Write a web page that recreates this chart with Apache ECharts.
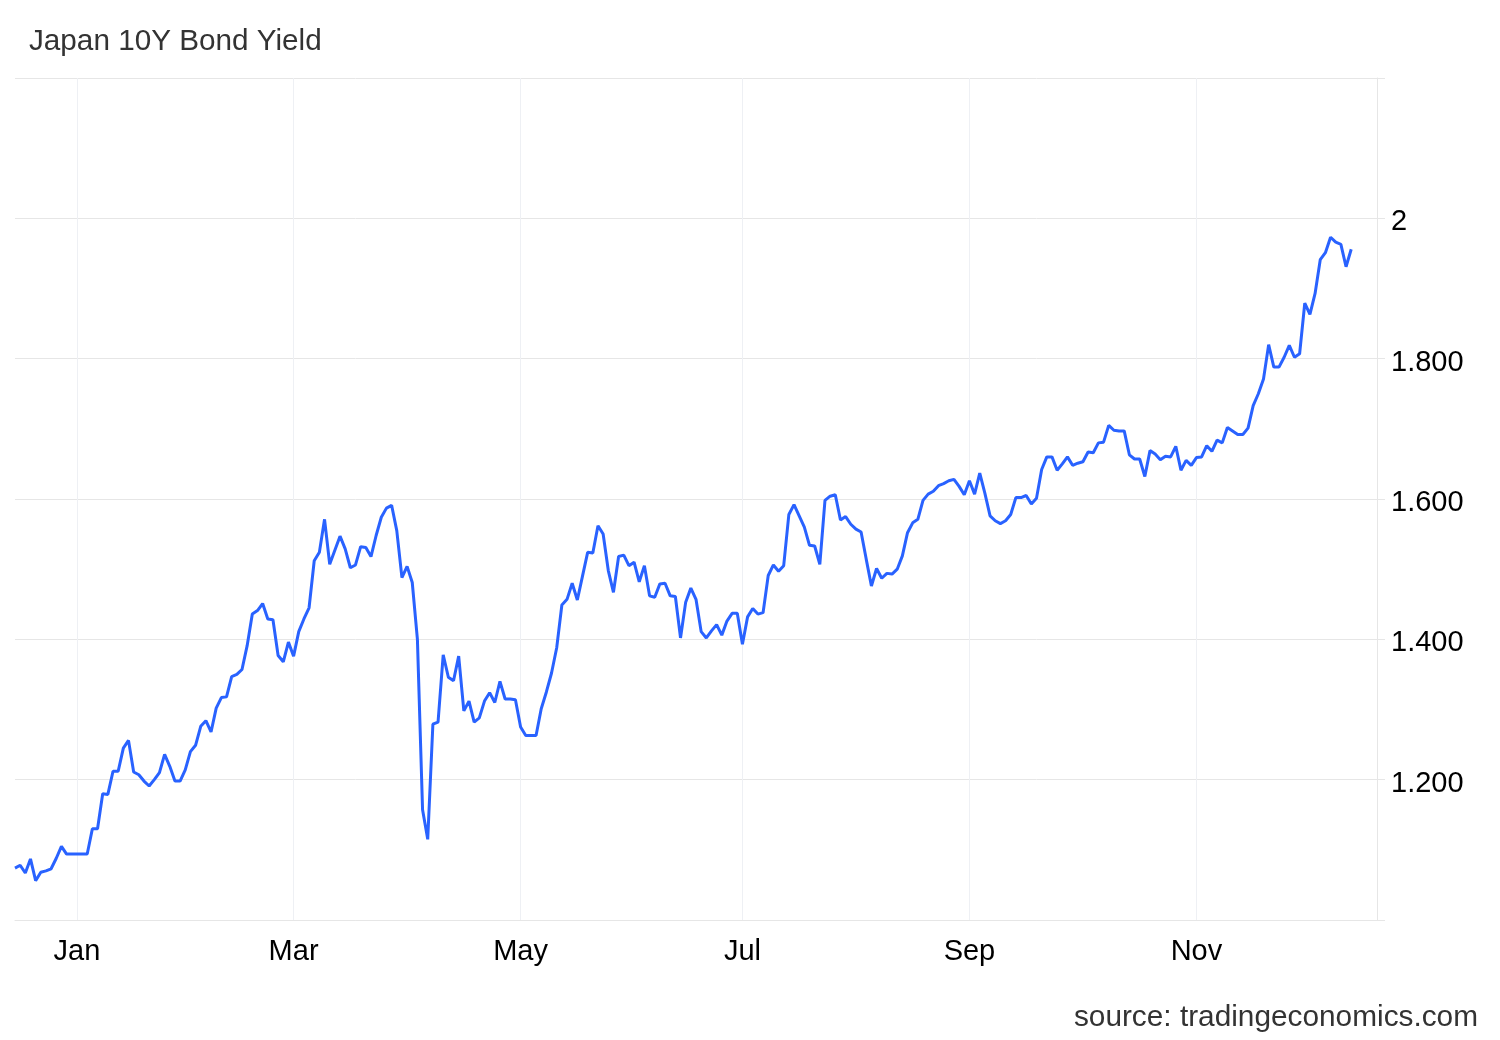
<!DOCTYPE html>
<html>
<head>
<meta charset="utf-8">
<script src="https://cdn.jsdelivr.net/npm/echarts@6/dist/echarts.min.js"></script>
<style>
  html, body { margin: 0; padding: 0; background: #ffffff; }
  #chart { width: 1500px; height: 1040px; }
</style>
</head>
<body>
<div id="chart"></div>
<script>
// ---- data ----
const titleText = 'Japan 10Y Bond Yield';
const sourceText = 'source: tradingeconomics.com';
// first trading day of the series; one value per weekday from here on
const firstDate = '2024-12-16';
const trailingEmptyDays = 5;
// month ticks shown on the x axis
const tickMonths = ['2025-01-01', '2025-03-01', '2025-05-01', '2025-07-01', '2025-09-01', '2025-11-01'];
const tickLabels = ['Jan', 'Mar', 'May', 'Jul', 'Sep', 'Nov'];
// y axis
const yMin = 1.0, yMax = 2.2, yStep = 0.2;

const yieldDec24 = [1.074, 1.078, 1.067, 1.087, 1.056, 1.068, 1.070, 1.073, 1.088, 1.105, 1.094, 1.094];
const yieldJan = [1.094, 1.094, 1.094, 1.130, 1.130, 1.180, 1.179, 1.212, 1.212, 1.245, 1.256, 1.211, 1.207,
  1.198, 1.191, 1.200, 1.210, 1.236, 1.219, 1.198, 1.198, 1.214, 1.240];
const yieldFeb = [1.249, 1.276, 1.284, 1.268, 1.302, 1.317, 1.318, 1.347, 1.350, 1.357, 1.391, 1.436, 1.441,
  1.451, 1.429, 1.428, 1.377, 1.368, 1.396, 1.376];
const yieldMar = [1.411, 1.429, 1.445, 1.512, 1.524, 1.571, 1.507, 1.527, 1.547, 1.529, 1.502, 1.506, 1.532,
  1.531, 1.518, 1.548, 1.574, 1.587, 1.591, 1.555, 1.488];
const yieldApr = [1.504, 1.481, 1.400, 1.157, 1.115, 1.279, 1.282, 1.378, 1.346, 1.341, 1.376, 1.298, 1.312,
  1.282, 1.288, 1.312, 1.324, 1.310, 1.340, 1.315, 1.315, 1.314];
const yieldMay = [1.275, 1.263, 1.263, 1.263, 1.301, 1.325, 1.352, 1.388, 1.449, 1.457, 1.480, 1.456, 1.490,
  1.524, 1.523, 1.562, 1.550, 1.498, 1.467, 1.518, 1.520, 1.505];
const yieldJun = [1.510, 1.482, 1.505, 1.462, 1.460, 1.479, 1.480, 1.462, 1.461, 1.402, 1.453, 1.473, 1.457,
  1.411, 1.402, 1.412, 1.421, 1.406, 1.426, 1.437, 1.437];
const yieldJul = [1.393, 1.432, 1.444, 1.436, 1.438, 1.491, 1.506, 1.497, 1.505, 1.578, 1.592, 1.576, 1.560,
  1.534, 1.533, 1.507, 1.598, 1.604, 1.606, 1.570, 1.575, 1.564, 1.557];
const yieldAug = [1.553, 1.514, 1.476, 1.501, 1.487, 1.494, 1.493, 1.500, 1.519, 1.552, 1.566, 1.571, 1.598,
  1.607, 1.611, 1.619, 1.622, 1.626, 1.628, 1.618, 1.606];
const yieldSep = [1.626, 1.607, 1.637, 1.608, 1.576, 1.569, 1.565, 1.569, 1.578, 1.602, 1.602, 1.605, 1.593,
  1.601, 1.642, 1.660, 1.660, 1.641, 1.650, 1.660, 1.648, 1.651];
const yieldOct = [1.653, 1.667, 1.666, 1.680, 1.681, 1.705, 1.698, 1.697, 1.697, 1.663, 1.657, 1.657, 1.632,
  1.669, 1.664, 1.656, 1.661, 1.660, 1.675, 1.641, 1.655, 1.648, 1.659];
const yieldNov = [1.660, 1.676, 1.668, 1.684, 1.680, 1.702, 1.697, 1.692, 1.692, 1.701, 1.733, 1.750, 1.771,
  1.820, 1.788, 1.788, 1.802, 1.819, 1.802, 1.807];
const yieldDec = [1.879, 1.863, 1.893, 1.941, 1.951, 1.973, 1.966, 1.963, 1.931, 1.956];

// ---- build ----
const values = [].concat(yieldDec24, yieldJan, yieldFeb, yieldMar, yieldApr, yieldMay, yieldJun,
  yieldJul, yieldAug, yieldSep, yieldOct, yieldNov, yieldDec);

function fmt(d) {
  const m = String(d.getUTCMonth() + 1).padStart(2, '0');
  const dd = String(d.getUTCDate()).padStart(2, '0');
  return d.getUTCFullYear() + '-' + m + '-' + dd;
}
const dates = [];
{
  const d = new Date(firstDate + 'T00:00:00Z');
  while (dates.length < values.length + trailingEmptyDays) {
    const wd = d.getUTCDay();
    if (wd !== 0 && wd !== 6) dates.push(fmt(d));
    d.setUTCDate(d.getUTCDate() + 1);
  }
}
// category nearest to the first day of each tick month
const tickIndex = {};
tickMonths.forEach((m, k) => {
  const t = Date.parse(m + 'T00:00:00Z');
  let best = 0, bestDist = Infinity;
  dates.forEach((ds, i) => {
    const dist = Math.abs(Date.parse(ds + 'T00:00:00Z') - t);
    if (dist < bestDist) { bestDist = dist; best = i; }
  });
  tickIndex[best] = tickLabels[k];
});

const chart = echarts.init(document.getElementById('chart'), null, { renderer: 'canvas' });
const font = '"Liberation Sans", Arial, Helvetica, sans-serif';
chart.setOption({
  animation: false,
  backgroundColor: '#ffffff',
  title: [
    { text: titleText, left: 24, top: 22,
      textStyle: { fontFamily: font, fontSize: 29.7, fontWeight: 'normal', color: '#333333' } },
    { text: sourceText, right: 17, top: 998,
      textStyle: { fontFamily: font, fontSize: 29.8, fontWeight: 'normal', color: '#333333' } }
  ],
  grid: { left: 15, right: 123, top: 78, bottom: 120, containLabel: false },
  xAxis: {
    type: 'category',
    data: dates,
    boundaryGap: false,
    axisLine: { show: true, lineStyle: { color: '#e6e6e6', width: 1 } },
    axisTick: { show: false },
    axisLabel: {
      interval: (i) => tickIndex[i] !== undefined,
      formatter: (v, i) => tickIndex[i] || '',
      color: '#000000', fontFamily: font, fontSize: 29, margin: 17
    },
    splitLine: {
      show: true,
      interval: (i) => tickIndex[i] !== undefined,
      lineStyle: { color: '#eef0f4', width: 1 }
    }
  },
  yAxis: {
    type: 'value',
    position: 'right',
    min: yMin, max: yMax, interval: yStep,
    axisLine: { show: true, lineStyle: { color: '#e6e6e6', width: 1 } },
    axisTick: { show: true, length: 8, lineStyle: { color: '#e6e6e6' } },
    axisLabel: {
      color: '#000000', fontFamily: font, fontSize: 29, margin: 14,
      verticalAlign: 'top', lineHeight: 8,
      formatter: (v) => {
        if (Math.abs(v - yMin) < 1e-9 || Math.abs(v - yMax) < 1e-9) return '';
        if (Math.abs(v - Math.round(v)) < 1e-9) return String(Math.round(v));
        return v.toFixed(3);
      }
    },
    splitLine: { show: true, lineStyle: { color: '#e6e6e6', width: 1 } }
  },
  series: [{
    type: 'line',
    data: values,
    showSymbol: false,
    symbol: 'none',
    lineStyle: { color: '#2962ff', width: 3 },
    itemStyle: { color: '#2962ff' }
  }]
});
</script>
</body>
</html>
